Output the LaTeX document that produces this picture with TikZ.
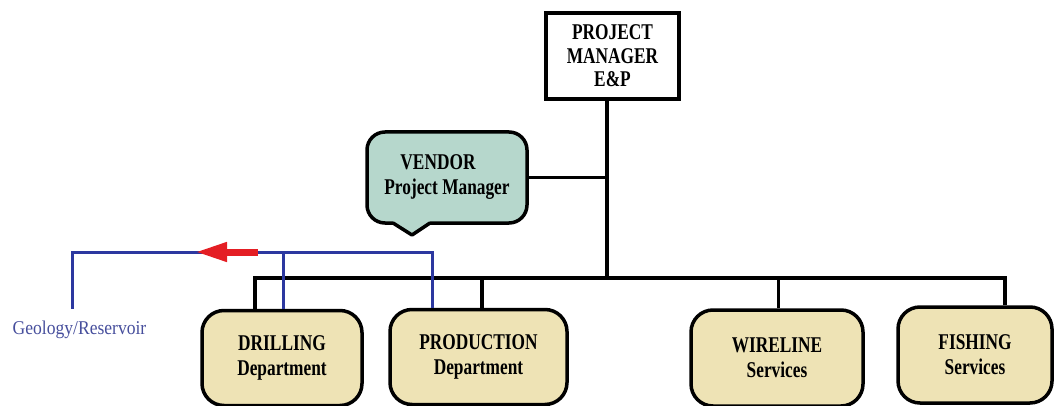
\documentclass[tikz,border=0pt]{standalone}
\usepackage{fontspec}
\setmainfont{Liberation Serif}
\newfontfamily\condserif[FakeStretch=0.77]{Liberation Serif}
\newfontfamily\geoserif[FakeStretch=0.9]{Liberation Serif}
\usetikzlibrary{arrows.meta}
\definecolor{deptfill}{RGB}{238,227,181}
\definecolor{vendfill}{RGB}{182,215,204}
\definecolor{flowblue}{RGB}{44,56,160}
\definecolor{geoblue}{RGB}{70,78,156}
\definecolor{flowred}{RGB}{228,30,36}
\begin{document}
\begin{tikzpicture}[x=1pt,y=-1pt,
  lbl/.style={font=\condserif\bfseries\fontsize{22.5}{25}\selectfont, align=center, text=black},
  pmbox/.style={lbl, draw, line width=3.5pt, fill=white, inner sep=0pt,
    minimum width=133pt, minimum height=86pt, font=\condserif\bfseries\fontsize{22.5}{23.5}\selectfont},
  vendbox/.style={lbl, draw, line width=3.5pt, fill=vendfill, rounded corners=18pt,
    inner sep=0pt, minimum width=160pt, minimum height=91pt},
  deptbox/.style={lbl, draw, line width=3.5pt, fill=deptfill, rounded corners=22pt,
    inner sep=0pt, minimum height=95pt},
  tree/.style={draw, line width=3.4pt},
  flowline/.style={draw=flowblue, line width=3pt},
  flowarrow/.style={draw=flowred, line width=7pt, -{Triangle[length=32pt,width=18pt]}, flowred}
]
\useasboundingbox (0,0) rectangle (1056,406);

% manager and vendor
\node[pmbox] (pm) at (612.5,56) {PROJECT\\MANAGER\\E\&P};
\node[vendbox] (vendor) at (447,177.5) {VENDOR\hspace*{18pt}\\Project Manager};
% speech tail of the vendor box
\fill[vendfill] (393,221) -- (412,235) -- (430,221) -- cycle;
\draw[line width=3.5pt, line join=round] (393,223) -- (412,235) -- (430,223);

% departments and services
\node[deptbox, minimum width=160pt] (drill) at (282,358) {DRILLING\\Department};
\node[deptbox, minimum width=177pt] (prod) at (478.5,357) {PRODUCTION\\Department};
\node[deptbox, minimum width=172pt, minimum height=96pt] (wire) at (777,358) {WIRELINE\\Services};
\node[deptbox, minimum width=154pt, minimum height=96pt] (fish) at (975,355) {FISHING\\Services};

\node[font=\geoserif\fontsize{19.5}{23}\selectfont, text=geoblue, anchor=base] (geo) at (79.5,334) {Geology/Reservoir};

% reporting tree
\coordinate (hub) at (607,278);
\draw[tree] ([xshift=-5.5pt]pm.south) -- (hub);
\draw[tree] (vendor.east) -- (vendor.east -| hub);
\draw[tree] ([xshift=-27pt]drill.north) |- (hub);
\draw[tree] ([xshift=3.5pt]prod.north) |- (hub);
\draw[tree] ([xshift=1.5pt]wire.north) |- (hub);
\draw[tree] ([xshift=30pt]fish.north) |- (hub);

% data flow towards geology / reservoir
\coordinate (geotop) at (72,309);
\coordinate (bluecorner) at (72,252);
\draw[flowline] ([xshift=-46.5pt]prod.north) |- (bluecorner) -- (geotop);
\draw[flowline] ([xshift=1pt]drill.north) -- ([xshift=1pt]drill.north |- bluecorner);
\coordinate (arrowtail) at (258,252);
\coordinate (arrowtip) at (195,252);
\draw[flowarrow] (arrowtail) -- (arrowtip);
\end{tikzpicture}
\end{document}
